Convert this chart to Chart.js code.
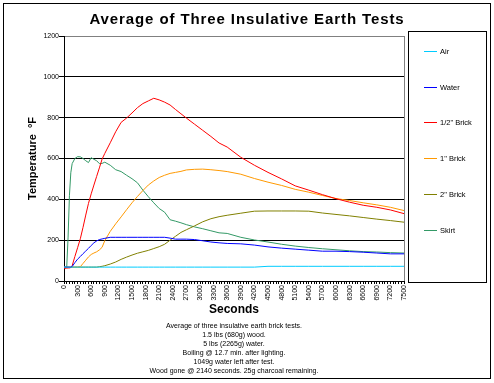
<!DOCTYPE html>
<html><head><meta charset="utf-8">
<script src="https://cdn.jsdelivr.net/npm/chart.js@4"></script>
<style>html,body{margin:0;padding:0;background:#fff}</style>
</head><body>
<canvas id="c" width="494" height="383"></canvas>
<script>
// ---- data ----
const seconds = [0,60,90,120,150,180,240,300,360,420,480,540,600,660,720,780,840,900,1020,1140,1260,1380,1500,1620,1740,1860,1980,2100,2220,2340,2460,2580,2700,2880,3060,3240,3420,3600,3900,4200,4500,4800,5100,5400,5700,6000,6300,6600,6900,7200,7500];
const air = [68,68,68,68,68,68,68,68,68,68,68,68,68,68,68,68,68,68,68,68,68,68,68,68,68,68,68,68,68,68,68,68,68,68,68,68,68,68,68,68,72,72,72,72,72,72,72,72,72,72,72];
const water = [68,68,68,68,68,71,90,107,120,134,147,160,174,187,196,203,206,209,214,214,214,214,214,214,214,214,214,214,214,210,205,205,205,203,197,191,187,184,182,176,167,161,156,151,146,146,144,141,137,133,133];
const halfInchBrick = [62,63,64,64,66,75,120,163,207,263,323,380,427,470,512,554,597,625,677,731,777,798,823,849,869,882,895,887,876,862,840,819,798,768,738,708,676,656,606,567,532,500,466,445,423,403,386,371,361,348,330];
const oneInchBrick = [68,68,68,68,68,68,68,68,70,86,102,118,130,137,143,152,165,198,243,280,314,349,383,414,443,470,490,507,518,527,532,537,544,547,548,545,541,536,523,502,484,468,449,435,419,404,394,383,373,361,345];
const twoInchBrick = [68,68,68,68,68,68,68,68,68,68,68,68,68,68,68,70,72,75,83,93,106,117,127,136,143,150,159,168,180,200,219,238,251,270,290,305,315,322,332,342,343,343,343,342,333,326,319,311,303,296,288];
const skirt = [68,68,215,420,530,575,600,609,608,600,589,580,604,596,589,575,576,582,567,545,536,518,501,481,445,413,383,355,337,300,293,285,276,265,256,246,236,233,214,201,191,180,171,164,158,153,148,144,142,139,137];

const seriesNames = ['Air','Water','1/2" Brick','1" Brick','2" Brick','Skirt'];
const seriesColors = ['#00CCFF','#0000FF','#FF0000','#FF9900','#808000','#339966'];
const seriesValues = [air, water, halfInchBrick, oneInchBrick, twoInchBrick, skirt];
const yMin = 0, yMax = 1200, yStep = 200;
const xMin = 0, xMax = 7500, xTickStep = 60, xLabelStep = 300;
const chartTitle = 'Average of Three Insulative Earth Tests';
const yTitle = 'Temperature  \u00B0F';
const xTitle = 'Seconds';
const footerLines = [
  'Average of three insulative earth brick tests.',
  '1.5 lbs (680g) wood.',
  '5 lbs (2265g) water.',
  'Boiling @ 12.7 min. after lighting.',
  '1049g water left after test.',
  'Wood gone @ 2140 seconds. 25g charcoal remaining.'
];

const FONT = "'Liberation Sans', Arial, sans-serif";

const datasets = seriesNames.map((name, i) => ({
  label: name,
  data: seconds.map((s, j) => ({x: s, y: seriesValues[i][j]})),
  borderColor: seriesColors[i],
  backgroundColor: seriesColors[i],
  borderWidth: 1,
  pointRadius: 0,
  tension: 0,
  fill: false
}));

const decor = {
  id: 'decor',
  afterDraw(chart) {
    const ctx = chart.ctx;
    const ca = chart.chartArea;
    ctx.save();
    // outer frame
    ctx.strokeStyle = '#000'; ctx.lineWidth = 1;
    ctx.strokeRect(3.5, 3.5, 487, 375);
    // right plot border
    ctx.strokeStyle = '#808080';
    ctx.beginPath(); ctx.moveTo(Math.round(ca.right) + 0.5, ca.top); ctx.lineTo(Math.round(ca.right) + 0.5, ca.bottom); ctx.stroke();
    // title
    ctx.fillStyle = '#000';
    ctx.font = 'bold 15px ' + FONT;
    ctx.textAlign = 'center'; ctx.textBaseline = 'middle';
    if ('letterSpacing' in ctx) ctx.letterSpacing = '0.9px';
    ctx.fillText(chartTitle, 247, 20);
    if ('letterSpacing' in ctx) ctx.letterSpacing = '0px';
    // footer
    ctx.font = '7px ' + FONT;
    footerLines.forEach((t, i) => ctx.fillText(t, (ca.left + ca.right) / 2, 326 + i * 9));
    // legend
    ctx.strokeStyle = '#000'; ctx.lineWidth = 1;
    ctx.strokeRect(408.5, 31.5, 78, 251);
    ctx.textAlign = 'left';
    ctx.font = '7.5px ' + FONT;
    chart.data.datasets.forEach((ds, i) => {
      const y = Math.round(51 + i * 35.7) + 0.5;
      ctx.strokeStyle = ds.borderColor;
      ctx.beginPath(); ctx.moveTo(424, y); ctx.lineTo(437, y); ctx.stroke();
      ctx.fillStyle = '#000';
      ctx.fillText(ds.label, 440, y);
    });
    ctx.restore();
  }
};

new Chart(document.getElementById('c'), {
  type: 'line',
  data: { datasets },
  options: {
    responsive: false,
    devicePixelRatio: 1,
    animation: false,
    layout: { padding: { left: 0, top: 36, right: 90, bottom: 62 } },
    plugins: { legend: { display: false }, title: { display: false }, tooltip: { enabled: false } },
    scales: {
      x: {
        type: 'linear', min: xMin, max: xMax,
        afterFit: s => { s.height = 40; },
        ticks: {
          stepSize: xTickStep, autoSkip: false, minRotation: 90, maxRotation: 90,
          padding: 1, color: '#000', font: { family: FONT, size: 7 },
          callback: v => (v % xLabelStep === 0 ? String(v) : '')
        },
        grid: { drawOnChartArea: false, drawTicks: true, tickLength: 3, color: '#000' },
        border: { display: true, color: '#000', width: 1 },
        title: { display: true, text: xTitle, color: '#000', font: { family: FONT, size: 12, weight: 'bold' }, padding: { top: 0, bottom: 4 } }
      },
      y: {
        min: yMin, max: yMax,
        afterFit: s => { s.width = 64; },
        ticks: { stepSize: yStep, color: '#000', padding: 0, font: { family: FONT, size: 7 }, callback: v => String(v) },
        grid: {
          color: c => (c.tick && c.tick.value === yMax ? '#808080' : '#000'),
          tickColor: '#000', tickLength: 5, lineWidth: 1
        },
        border: { display: true, color: '#000', width: 1 },
        title: { display: true, text: yTitle, color: '#000', font: { family: FONT, size: 11, weight: 'bold' }, padding: { top: 26, bottom: 0 } }
      }
    }
  },
  plugins: [decor]
});
</script>
</body></html>
